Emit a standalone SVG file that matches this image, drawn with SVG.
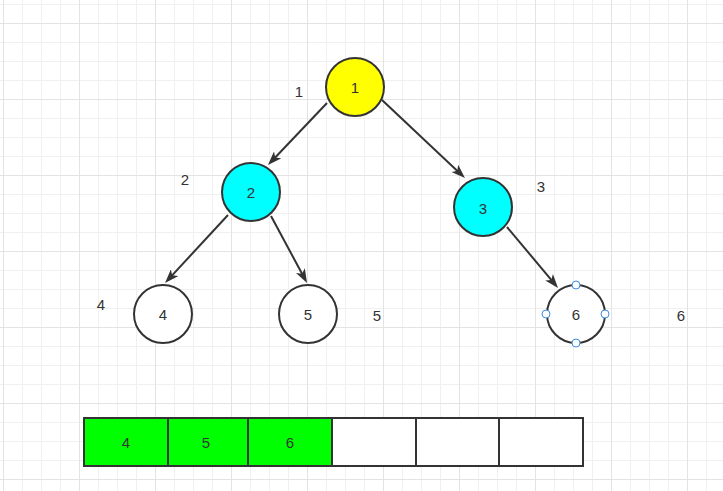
<svg xmlns="http://www.w3.org/2000/svg" width="723" height="491" viewBox="0 0 723 491">
  <style>
    .node { stroke: #333333; stroke-width: 2; }
    .edge { stroke: #333333; stroke-width: 2; fill: none; }
    .txt { font-family: "Liberation Sans", Arial, sans-serif; font-size: 15px; fill: #333333; text-anchor: middle; dominant-baseline: central; }
    .cell { stroke: #333333; stroke-width: 2; }
    .handle { fill: #ffffff; stroke: #3d8ee6; stroke-width: 1; }
  </style>
  <defs>
    <pattern id="grid" patternUnits="userSpaceOnUse" x="3" y="23" width="76" height="76">
      <rect width="76" height="76" fill="#ffffff"/>
      <g fill="#f0f0f0">
        <rect x="19" y="0" width="1" height="76"/>
        <rect x="38" y="0" width="1" height="76"/>
        <rect x="57" y="0" width="1" height="76"/>
        <rect x="0" y="19" width="76" height="1"/>
        <rect x="0" y="38" width="76" height="1"/>
        <rect x="0" y="57" width="76" height="1"/>
      </g>
      <g fill="#e3e3e3">
        <rect x="0" y="0" width="1" height="76"/>
        <rect x="0" y="0" width="76" height="1"/>
      </g>
    </pattern>
    <marker id="arrow" markerUnits="userSpaceOnUse" viewBox="0 0 14 10" refX="8" refY="5" markerWidth="14" markerHeight="10" orient="auto">
      <path d="M0,0 L14,5 L0,10 L3.5,5 Z" fill="#333333"/>
    </marker>
  </defs>
  <rect x="0" y="0" width="723" height="491" fill="url(#grid)"/>

  <g id="connectors">
    <line class="edge" x1="327" y1="103" x2="272.1" y2="160.7" marker-end="url(#arrow)"/>
    <line class="edge" x1="382" y1="100" x2="460.6" y2="173.9" marker-end="url(#arrow)"/>
    <line class="edge" x1="228" y1="215" x2="169.1" y2="278.6" marker-end="url(#arrow)"/>
    <line class="edge" x1="271" y1="216" x2="304.2" y2="277.7" marker-end="url(#arrow)"/>
    <line class="edge" x1="507" y1="227" x2="554.2" y2="283.4" marker-end="url(#arrow)"/>
  </g>

  <g id="node1">
    <circle class="node" cx="355" cy="87" r="29" fill="#ffff00"/>
    <text class="txt" x="355" y="87">1</text>
  </g>
  <g id="node2">
    <circle class="node" cx="251" cy="192" r="29" fill="#00ffff"/>
    <text class="txt" x="251" y="192">2</text>
  </g>
  <g id="node3">
    <circle class="node" cx="483" cy="207" r="29" fill="#00ffff"/>
    <text class="txt" x="483" y="208">3</text>
  </g>
  <g id="node4">
    <circle class="node" cx="163" cy="314" r="29" fill="#ffffff"/>
    <text class="txt" x="163" y="314">4</text>
  </g>
  <g id="node5">
    <circle class="node" cx="308" cy="314" r="29" fill="#ffffff"/>
    <text class="txt" x="308" y="314">5</text>
  </g>
  <g id="node6">
    <circle class="node" cx="576" cy="314" r="29" fill="#ffffff"/>
    <text class="txt" x="576" y="314">6</text>
    <circle class="handle" cx="576" cy="285" r="4"/>
    <circle class="handle" cx="546" cy="314" r="4"/>
    <circle class="handle" cx="605" cy="314" r="4"/>
    <circle class="handle" cx="576" cy="343" r="4"/>
  </g>

  <g id="labels">
    <text class="txt" x="299" y="91">1</text>
    <text class="txt" x="185" y="179">2</text>
    <text class="txt" x="541" y="186">3</text>
    <text class="txt" x="101" y="304">4</text>
    <text class="txt" x="377" y="315">5</text>
    <text class="txt" x="681" y="315">6</text>
  </g>

  <g id="array">
    <rect class="cell" x="84" y="418" width="84" height="48" fill="#00ff00"/>
    <rect class="cell" x="168" y="418" width="80" height="48" fill="#00ff00"/>
    <rect class="cell" x="248" y="418" width="84" height="48" fill="#00ff00"/>
    <rect class="cell" x="332" y="418" width="84" height="48" fill="#ffffff"/>
    <rect class="cell" x="416" y="418" width="83" height="48" fill="#ffffff"/>
    <rect class="cell" x="499" y="418" width="84" height="48" fill="#ffffff"/>
    <text class="txt" x="126" y="442">4</text>
    <text class="txt" x="206" y="442">5</text>
    <text class="txt" x="290" y="442">6</text>
  </g>
</svg>
